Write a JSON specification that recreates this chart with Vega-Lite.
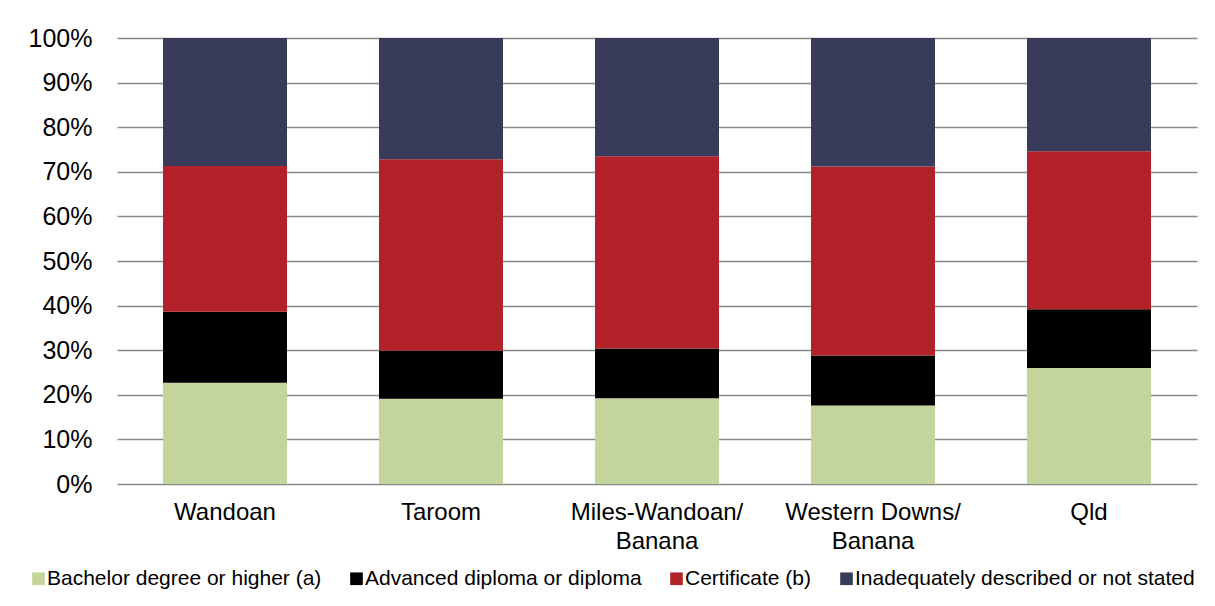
{
  "$schema": "https://vega.github.io/schema/vega-lite/v6.json",
  "width": 1080,
  "height": 446,
  "padding": {"left": 28, "top": 26, "right": 18, "bottom": 0},
  "background": "white",
  "data": {
    "values": [
      {"area": "Wandoan", "level": "Bachelor degree or higher (a)", "share": 22.7},
      {"area": "Wandoan", "level": "Advanced diploma or diploma", "share": 15.9},
      {"area": "Wandoan", "level": "Certificate (b)", "share": 32.7},
      {"area": "Wandoan", "level": "Inadequately described or not stated", "share": 28.7},
      {"area": "Taroom", "level": "Bachelor degree or higher (a)", "share": 19.1},
      {"area": "Taroom", "level": "Advanced diploma or diploma", "share": 10.8},
      {"area": "Taroom", "level": "Certificate (b)", "share": 42.9},
      {"area": "Taroom", "level": "Inadequately described or not stated", "share": 27.2},
      {"area": "Miles-Wandoan/Banana", "level": "Bachelor degree or higher (a)", "share": 19.2},
      {"area": "Miles-Wandoan/Banana", "level": "Advanced diploma or diploma", "share": 11.2},
      {"area": "Miles-Wandoan/Banana", "level": "Certificate (b)", "share": 43.1},
      {"area": "Miles-Wandoan/Banana", "level": "Inadequately described or not stated", "share": 26.5},
      {"area": "Western Downs/Banana", "level": "Bachelor degree or higher (a)", "share": 17.6},
      {"area": "Western Downs/Banana", "level": "Advanced diploma or diploma", "share": 11.2},
      {"area": "Western Downs/Banana", "level": "Certificate (b)", "share": 42.4},
      {"area": "Western Downs/Banana", "level": "Inadequately described or not stated", "share": 28.8},
      {"area": "Qld", "level": "Bachelor degree or higher (a)", "share": 26.0},
      {"area": "Qld", "level": "Advanced diploma or diploma", "share": 13.2},
      {"area": "Qld", "level": "Certificate (b)", "share": 35.4},
      {"area": "Qld", "level": "Inadequately described or not stated", "share": 25.4}
    ]
  },
  "transform": [
    {
      "calculate": "indexof(['Bachelor degree or higher (a)', 'Advanced diploma or diploma', 'Certificate (b)', 'Inadequately described or not stated'], datum.level)",
      "as": "stackOrder"
    }
  ],
  "mark": {"type": "bar"},
  "encoding": {
    "x": {
      "field": "area",
      "type": "nominal",
      "sort": ["Wandoan", "Taroom", "Miles-Wandoan/Banana", "Western Downs/Banana", "Qld"],
      "scale": {"paddingInner": 0.426, "paddingOuter": 0.213},
      "axis": {
        "title": null,
        "labelAngle": 0,
        "ticks": false,
        "domain": false,
        "labelPadding": 16,
        "labelFont": "Liberation Sans",
        "labelFontSize": 24,
        "labelColor": "#000000",
        "labelLineHeight": 29,
        "labelExpr": "indexof(datum.value, '/') > 0 ? [substring(datum.value, 0, indexof(datum.value, '/') + 1), substring(datum.value, indexof(datum.value, '/') + 1)] : datum.value"
      }
    },
    "y": {
      "field": "share",
      "type": "quantitative",
      "stack": "normalize",
      "scale": {"domain": [0, 1], "nice": false},
      "axis": {
        "title": null,
        "format": ".0%",
        "values": [0, 0.1, 0.2, 0.3, 0.4, 0.5, 0.6, 0.7, 0.8, 0.9, 1],
        "ticks": false,
        "domain": false,
        "labelPadding": 25,
        "labelFont": "Liberation Sans",
        "labelFontSize": 25,
        "labelColor": "#000000",
        "gridColor": "#898989",
        "gridWidth": 1.6
      }
    },
    "color": {
      "field": "level",
      "type": "nominal",
      "scale": {
        "domain": ["Bachelor degree or higher (a)", "Advanced diploma or diploma", "Certificate (b)", "Inadequately described or not stated"],
        "range": ["#c3d59b", "#000000", "#b22228", "#383b5a"]
      },
      "legend": {
        "title": null,
        "orient": "none",
        "direction": "horizontal",
        "legendX": -89,
        "legendY": 530,
        "symbolType": "square",
        "symbolSize": 160,
        "symbolStrokeWidth": 0,
        "labelFont": "Liberation Sans",
        "labelFontSize": 21,
        "labelColor": "#000000",
        "labelOffset": -2,
        "columnPadding": 24,
        "labelLimit": 500
      }
    },
    "order": {"field": "stackOrder", "type": "quantitative"}
  },
  "config": {
    "view": {"stroke": null}
  }
}
